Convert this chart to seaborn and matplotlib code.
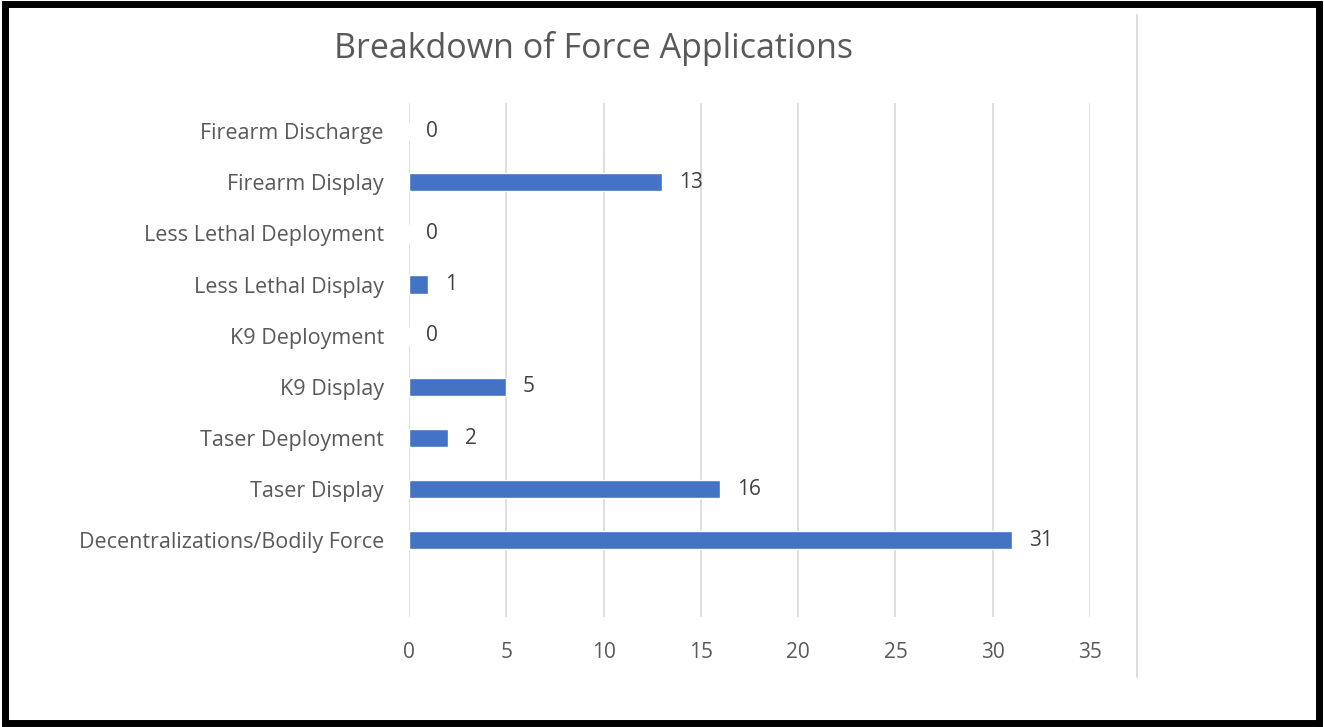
import matplotlib
matplotlib.use("Agg")
import matplotlib.pyplot as plt
import seaborn as sns
import pandas as pd
from matplotlib.lines import Line2D
from matplotlib.patches import Rectangle

categories = ["Firearm Discharge", "Firearm Display", "Less Lethal Deployment",
              "Less Lethal Display", "K9 Deployment", "K9 Display",
              "Taser Deployment", "Taser Display", "Decentralizations/Bodily Force"]
values = [0, 13, 0, 1, 0, 5, 2, 16, 31]
x_ticks = [0, 5, 10, 15, 20, 25, 30, 35]
title = "Breakdown of Force Applications"

sns.set_theme(style="white")
plt.rcParams['font.family'] = ['Open Sans', 'DejaVu Sans']

df = pd.DataFrame({"cat": categories, "val": values})

fig = plt.figure(figsize=(13.24, 7.27), dpi=100)
ax = fig.add_axes([0.3089, 0.1513, 0.5144, 0.707])

sns.barplot(data=df, y="cat", x="val", orient="h", color="#4472C4",
            saturation=1, width=0.36, ax=ax)

ax.set_xlim(0, 35)
ax.set_ylim(len(categories) - 0.5 + 1, -0.55)
ax.set_xticks(x_ticks)
ax.xaxis.grid(True, color="#D9D9D9", linewidth=1.2)
ax.set_axisbelow(True)
for s in ax.spines.values():
    s.set_visible(False)
ax.set_xlabel("")
ax.set_ylabel("")
ax.tick_params(axis="x", colors="#595959", labelsize=15, length=0, pad=18)
ax.tick_params(axis="y", colors="#595959", labelsize=15.5, length=0, pad=18)
for lab in ax.get_yticklabels() + ax.get_xticklabels():
    lab.set_color("#595959")

for c in ax.containers:
    ax.bar_label(c, labels=[str(v) for v in values], padding=12,
                 color="#404040", fontsize=15)

fig.text(0.448, 1 - 48 / 727, title, ha="center", va="center",
         fontsize=24.5, color="#595959")

# chart-area edge line
fig.add_artist(Line2D([1137 / 1324, 1137 / 1324], [1 - 15 / 727, 1 - 677 / 727],
                      color="#D9D9D9", linewidth=1.3, transform=fig.transFigure))
# outer black frame
fig.add_artist(Rectangle((5 / 1324, 4 / 727), 1 - 10 / 1324, 1 - 8 / 727,
                         fill=False, edgecolor="black", linewidth=5,
                         transform=fig.transFigure))

fig.savefig("out.png", dpi=100)
